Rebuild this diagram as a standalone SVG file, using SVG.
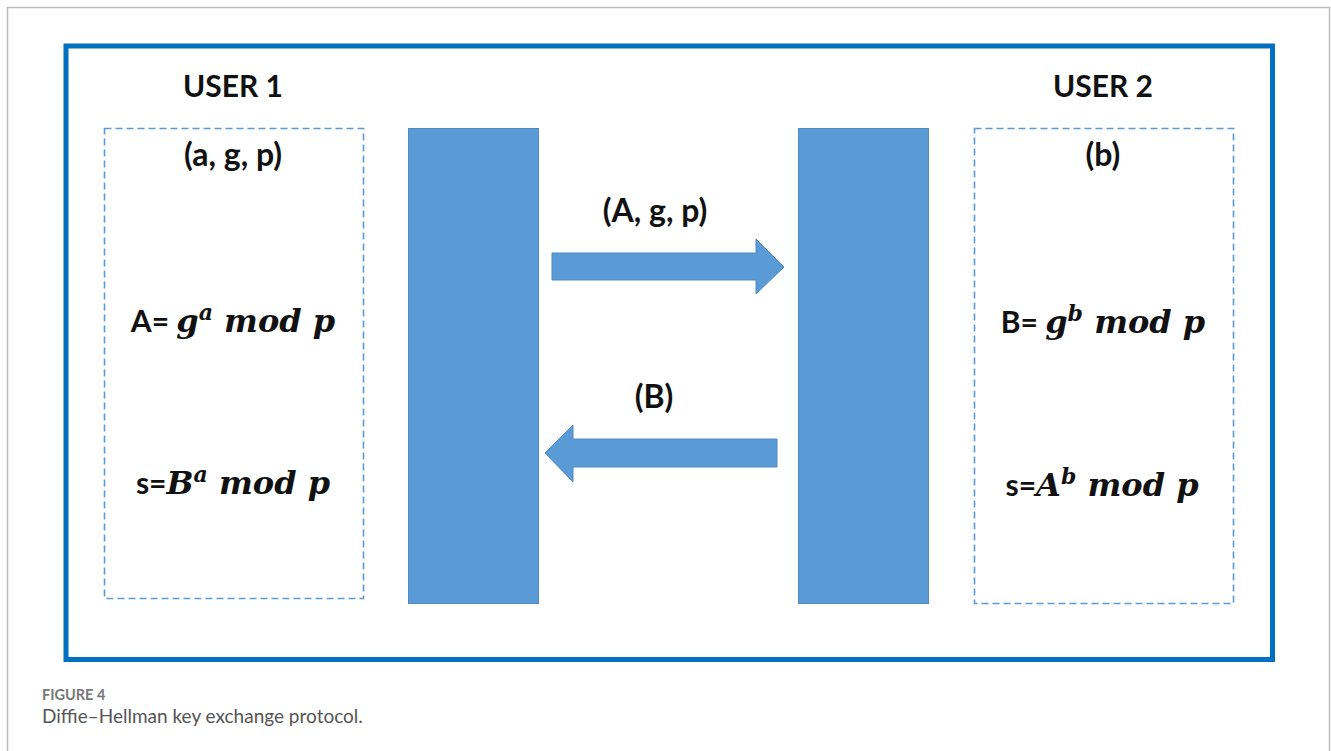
<svg xmlns="http://www.w3.org/2000/svg" width="1331" height="751" viewBox="0 0 1331 751">
<style>
.frame{fill:none;stroke:#0070C0;stroke-width:5}
.dash{fill:none;stroke:#5B9BD5;stroke-width:1.6;stroke-dasharray:7 4}
.bar{fill:#5B9BD5;stroke:#4F8BC9;stroke-width:1}
.arrow{fill:#5B9BD5;stroke:#4F8BC9;stroke-width:1}
.lbl{font-family:Lato,"Liberation Sans",sans-serif;font-weight:700;font-size:32px;fill:#111;text-anchor:middle}
.usr{font-size:30px}
.eq{font-size:30px}
.math{font-family:"DejaVu Serif",serif;font-weight:700;font-style:italic;font-size:32px}
.sup{font-family:"DejaVu Serif",serif;font-weight:700;font-style:italic;font-size:22px}
.cap1{font-family:Lato,"Liberation Sans",sans-serif;font-weight:700;font-size:14.5px;fill:#777}
.cap2{font-family:Lato,"Liberation Sans",sans-serif;font-size:19px;fill:#555}
</style>
<path d="M7.5 751 V7.5 H1329.5 V751" fill="none" stroke="#bdbdbd" stroke-width="1.5"/>
<g id="outer"><rect class="frame" x="66" y="46" width="1206.5" height="613.5"/></g>

<g id="user1">
<text class="lbl usr" x="233" y="97">USER 1</text>
<rect class="dash" x="104.5" y="128.5" width="259" height="470"/>
<text class="lbl" x="233" y="166">(a, g, p)</text>
<text class="lbl eq" x="233" y="332"><tspan>A= </tspan><tspan class="math">g</tspan><tspan class="sup" dy="-12">a</tspan><tspan class="math" dy="12"> mod p</tspan></text>
<text class="lbl eq" x="233" y="494"><tspan>s=</tspan><tspan class="math">B</tspan><tspan class="sup" dy="-12">a</tspan><tspan class="math" dy="12"> mod p</tspan></text>
</g>

<g id="user2">
<text class="lbl usr" x="1103" y="97">USER 2</text>
<rect class="dash" x="974.5" y="128.5" width="259" height="475"/>
<text class="lbl" x="1103" y="166">(b)</text>
<text class="lbl eq" x="1103" y="333"><tspan>B= </tspan><tspan class="math">g</tspan><tspan class="sup" dy="-12">b</tspan><tspan class="math" dy="12"> mod p</tspan></text>
<text class="lbl eq" x="1102" y="496"><tspan>s=</tspan><tspan class="math">A</tspan><tspan class="sup" dy="-12">b</tspan><tspan class="math" dy="12"> mod p</tspan></text>
</g>

<g id="channel1"><rect class="bar" x="408.5" y="128.5" width="130" height="475"/></g>
<g id="channel2"><rect class="bar" x="798.5" y="128.5" width="130" height="475"/></g>

<g id="connectors">
<polygon class="arrow" points="552,253 756,253 756,239 784,267 756,294 756,280 552,280"/>
<polygon class="arrow" points="777,439 573,439 573,425 545,453 573,482 573,467 777,467"/>
<text class="lbl" x="655" y="222">(A, g, p)</text>
<text class="lbl" x="654" y="408">(B)</text>
</g>

<g id="caption">
<text class="cap1" x="42" y="700">FIGURE 4</text>
<text class="cap2" x="42" y="723">Diffie–Hellman key exchange protocol.</text>
</g>
</svg>
